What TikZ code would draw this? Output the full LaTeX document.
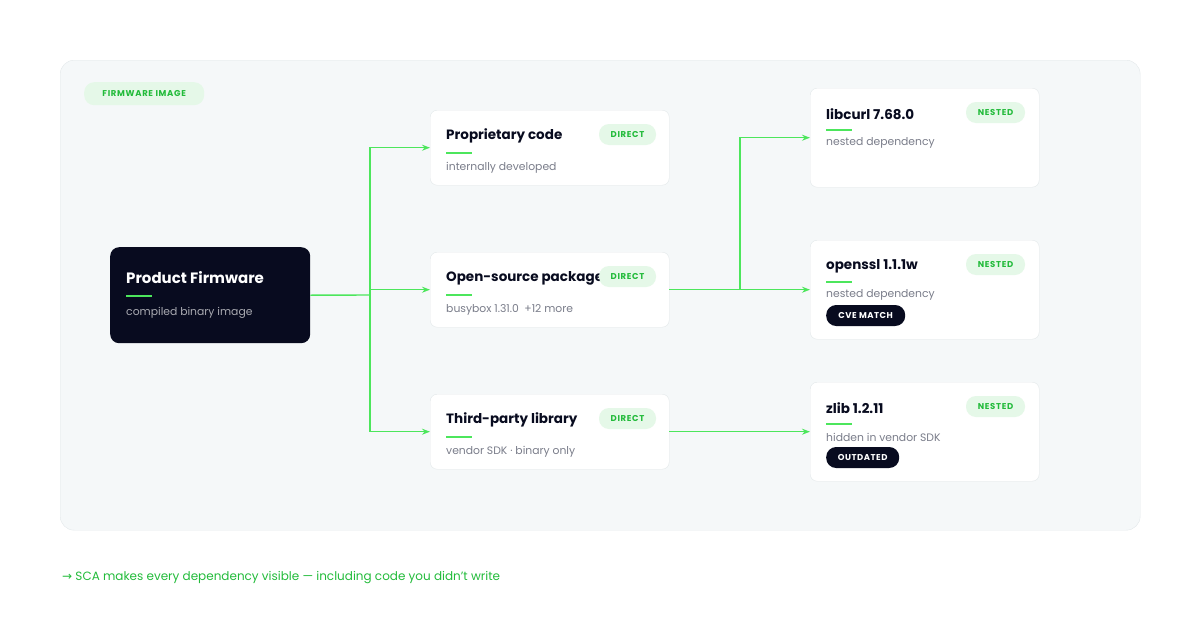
\documentclass[tikz,border=0pt]{standalone}
\usepackage{fontspec}
\setmainfont{Poppins}
\newfontfamily\symfont{DejaVu Sans}
\usetikzlibrary{positioning,calc,arrows.meta}
\definecolor{bgpanel}{HTML}{F5F8F9}
\definecolor{edgegrey}{HTML}{E3E8EA}
\definecolor{navy}{HTML}{080B1F}
\definecolor{linkgreen}{HTML}{4CE65C}
\definecolor{taggreen}{HTML}{22BB3A}
\definecolor{tagfill}{HTML}{E5F8E8}
\definecolor{subgrey}{HTML}{7A7D8A}
\tikzset{
    card/.style={
           rectangle,
           rounded corners=7pt,
           draw=edgegrey, fill=white,
           anchor=north west,
           minimum width=239pt,
           minimum height=75pt,
           },
    deepcard/.style={
           card,
           minimum width=229pt,
           minimum height=99pt,
           },
    pill/.style={
           rectangle, rounded corners=10pt,
           fill=tagfill, text=taggreen,
           font=\fontsize{8.5}{9}\selectfont\bfseries\addfontfeature{LetterSpace=8},
           inner xsep=0pt, minimum height=21pt, minimum width=57pt,
           },
    badge/.style={
           rectangle, rounded corners=10pt,
           fill=navy, text=white, anchor=west,
           font=\fontsize{8.5}{9}\selectfont\bfseries\addfontfeature{LetterSpace=6},
           inner xsep=0pt, minimum height=21pt,
           },
    title/.style={anchor=west, inner sep=0pt, text=navy,
           font=\fontsize{13.5}{14}\selectfont\bfseries},
    sub/.style={anchor=west, inner sep=0pt, text=subgrey,
           font=\fontsize{10.8}{12}\selectfont},
    bar/.style={linkgreen, line width=2pt},
    link/.style={linkgreen, line width=1.4pt, -{Stealth[length=8pt,width=6pt]}},
}
\begin{document}
\begin{tikzpicture}[x=1pt,y=-1pt]
 \useasboundingbox (0,0) rectangle (1200,640);

 % panel
 \node[rectangle, rounded corners=14pt, draw=edgegrey, fill=bgpanel,
   anchor=north west, minimum width=1080pt, minimum height=470pt] (PANEL) at (60,60) {};
 \node[pill, anchor=north west, minimum height=23pt, minimum width=120pt] (IMGTAG) at (84,82) {FIRMWARE IMAGE};

 % source
 \node[card, draw=none, fill=navy, rounded corners=9pt,
   minimum width=200pt, minimum height=96pt] (FIRMWARE) at (110,247) {};
 \node[title, text=white, font=\fontsize{15}{16}\selectfont\bfseries] (FWTITLE) at (126,278) {Product Firmware};
 \draw[bar] (126,296) -- (152,296);
 \node[sub, text=white!65!navy] (FWSUB) at (126,313) {compiled binary image};

 % direct components
 \node[card] (PROP) at (430,110) {};
 \node[title] at (446,136) {Proprietary code};
 \draw[bar] (446,153) -- (472,153);
 \node[sub] at (446,168) {internally developed};
 \node[pill] at (627.5,134.5) {DIRECT};

 \node[card] (OPEN) at (430,252) {};
 \node[title] at (446,278) {Open-source package};
 \draw[bar] (446,295) -- (472,295);
 \node[sub] at (446,310) {busybox 1.31.0\enspace+12 more};
 \node[pill] at (627.5,276.5) {DIRECT};

 \node[card] (THIRD) at (430,394) {};
 \node[title] at (446,420) {Third-party library};
 \draw[bar] (446,437) -- (472,437);
 \node[sub] at (446,452) {vendor SDK · binary only};
 \node[pill] at (627.5,418.5) {DIRECT};

 % nested components
 \node[deepcard] (CURL) at (810,88) {};
 \node[title] at (826,114) {libcurl 7.68.0};
 \draw[bar] (826,130) -- (852,130);
 \node[sub] at (826,143) {nested dependency};
 \node[pill, minimum width=59pt] at (995.5,112.5) {NESTED};

 \node[deepcard] (SSL) at (810,240) {};
 \node[title] at (826,266) {openssl 1.1.1w};
 \draw[bar] (826,282) -- (852,282);
 \node[sub] at (826,295) {nested dependency};
 \node[pill, minimum width=59pt] at (995.5,264.5) {NESTED};
 \node[badge, minimum width=79pt] (CVE) at (826,315.5) {CVE MATCH};

 \node[deepcard] (ZLIB) at (810,382) {};
 \node[title] at (826,408) {zlib 1.2.11};
 \draw[bar] (826,424) -- (852,424);
 \node[sub] at (826,437) {hidden in vendor SDK};
 \node[pill, minimum width=59pt] at (995.5,406.5) {NESTED};
 \node[badge, minimum width=73pt] (OLD) at (826,457.5) {OUTDATED};

 % connectors
 \coordinate (SPLIT) at (370,295);
 \coordinate (FORK) at (740,289.5);
 \draw[linkgreen, line width=1.4pt] (FIRMWARE.east) -- (SPLIT);
 \draw[link] (SPLIT) |- (PROP.west);
 \draw[link] (SPLIT) |- (OPEN.west);
 \draw[link] (SPLIT) |- (THIRD.west);
 \draw[link] (OPEN.east) -- (SSL.west);
 \draw[link] (FORK) |- (CURL.west);
 \draw[link] (THIRD.east) -- (ZLIB.west);

 % caption
 \node[anchor=west, inner sep=0pt, text=taggreen, font=\fontsize{12}{14}\selectfont] (NOTE) at (62,578)
   {{\symfont→} SCA makes every dependency visible — including code you didn't write};
\end{tikzpicture}
\end{document}
